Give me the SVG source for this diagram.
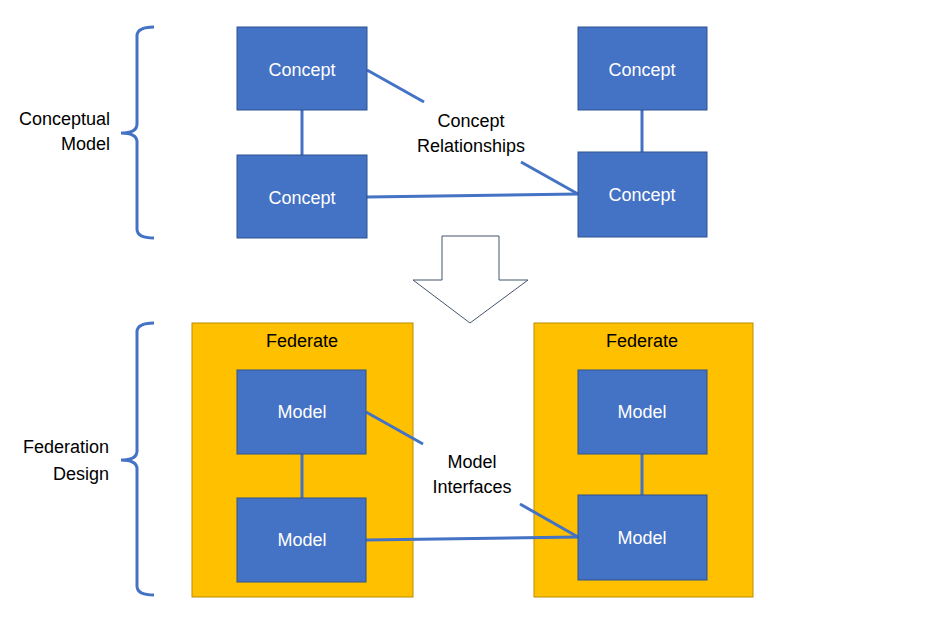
<svg xmlns="http://www.w3.org/2000/svg" width="938" height="619" viewBox="0 0 938 619">
<style>
.box{fill:#4472C4;stroke:#2F528F;stroke-width:1}
.fed{fill:#FFC000;stroke:#BC8C00;stroke-width:1}
.wt{font-family:"Liberation Sans",Arial,sans-serif;font-size:18px;fill:#FFFFFF;text-anchor:middle}
.bt{font-family:"Liberation Sans",Arial,sans-serif;font-size:18px;fill:#000000;text-anchor:middle}
.lt{font-family:"Liberation Sans",Arial,sans-serif;font-size:18px;fill:#000000;text-anchor:end}
.con{stroke:#4472C4;stroke-width:3;fill:none}
.brace{stroke:#4472C4;stroke-width:3;fill:none}
</style>
<rect width="938" height="619" fill="#FFFFFF"/>
<g id="brace-conceptual">
<path class="brace" d="M154,27 Q137,27 137,36 L137,124 Q137,133 121,133 Q137,133 137,142 L137,229 Q137,238 154,238"/>
<text class="lt" x="110" y="125">Conceptual</text>
<text class="lt" x="110" y="150">Model</text>
</g>
<g id="brace-federation">
<path class="brace" d="M154,323 Q137,323 137,332 L137,451 Q137,460 121,460 Q137,460 137,469 L137,586 Q137,595 154,595"/>
<text class="lt" x="109" y="453">Federation</text>
<text class="lt" x="109" y="480">Design</text>
</g>
<g id="federate-left">
<rect class="fed" x="192" y="323" width="221" height="274"/>
<text class="bt" x="302" y="347">Federate</text>
</g>
<g id="federate-right">
<rect class="fed" x="534" y="323" width="219" height="274"/>
<text class="bt" x="642" y="347">Federate</text>
</g>
<g id="connectors">
<line class="con" x1="302" y1="110" x2="302" y2="155"/>
<line class="con" x1="642" y1="110" x2="642" y2="152"/>
<line class="con" x1="367" y1="70" x2="424" y2="102"/>
<line class="con" x1="521" y1="162" x2="578" y2="194"/>
<line class="con" x1="367" y1="197" x2="578" y2="194"/>
<line class="con" x1="302" y1="454" x2="302" y2="498"/>
<line class="con" x1="642" y1="454" x2="642" y2="495"/>
<line class="con" x1="366" y1="412" x2="423" y2="444"/>
<line class="con" x1="520" y1="504" x2="578" y2="537"/>
<line class="con" x1="366" y1="540" x2="578" y2="537"/>
</g>
<g id="concept-1">
<rect class="box" x="237" y="27" width="130" height="83"/>
<text class="wt" x="302" y="76">Concept</text>
</g>
<g id="concept-2">
<rect class="box" x="237" y="155" width="130" height="83"/>
<text class="wt" x="302" y="204">Concept</text>
</g>
<g id="concept-3">
<rect class="box" x="578" y="27" width="129" height="83"/>
<text class="wt" x="642" y="76">Concept</text>
</g>
<g id="concept-4">
<rect class="box" x="578" y="152" width="129" height="85"/>
<text class="wt" x="642" y="201">Concept</text>
</g>
<g id="label-concept-relationships">
<text class="bt" x="471" y="127">Concept</text>
<text class="bt" x="471" y="152">Relationships</text>
</g>
<g id="transform-arrow">
<path d="M442,236 L499,236 L499,280 L528,280 L470,323 L413,280 L442,280 Z" fill="#FFFFFF" stroke="#44546A" stroke-width="1"/>
</g>
<g id="model-1">
<rect class="box" x="237" y="370" width="129" height="84"/>
<text class="wt" x="302" y="418">Model</text>
</g>
<g id="model-2">
<rect class="box" x="237" y="498" width="129" height="84"/>
<text class="wt" x="302" y="546">Model</text>
</g>
<g id="model-3">
<rect class="box" x="578" y="370" width="129" height="84"/>
<text class="wt" x="642" y="418">Model</text>
</g>
<g id="model-4">
<rect class="box" x="578" y="495" width="129" height="85"/>
<text class="wt" x="642" y="544">Model</text>
</g>
<g id="label-model-interfaces">
<text class="bt" x="472" y="468">Model</text>
<text class="bt" x="472" y="493">Interfaces</text>
</g>
</svg>
